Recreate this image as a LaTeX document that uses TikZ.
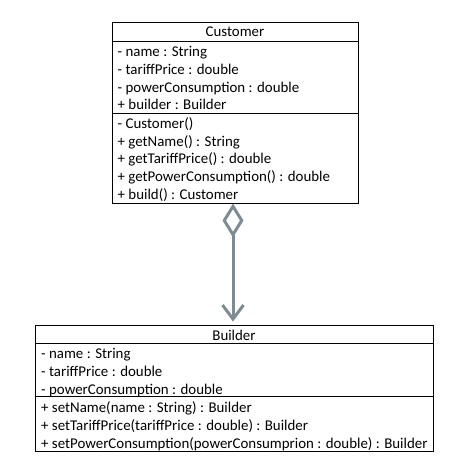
\documentclass[tikz,border=0pt]{standalone}
\usepackage{fontspec}
\setmainfont{Carlito}
\usetikzlibrary{arrows.meta}
\definecolor{linkgray}{RGB}{126,140,146}
\tikzset{
  classbox/.style={draw=black, line width=1pt, minimum width=#1, inner sep=0pt},
  divider/.style={draw=black, line width=1pt},
  member/.style={anchor=base west, inner sep=0pt, font=\fontsize{14.9}{16}\selectfont},
  title/.style={anchor=base, inner sep=0pt, font=\fontsize{14.9}{16}\selectfont},
  assoc/.style={draw=linkgray, line width=3pt,
    {Diamond[length=34pt,width=21pt,fill=white,line join=miter]}-{Straight Barb[length=14pt,width=21pt]},
    shorten >=3pt}
}
\begin{document}
\begin{tikzpicture}[x=1pt,y=-1pt]
\useasboundingbox (0,0) rectangle (468,469);
% Customer
\node[classbox=246pt, minimum height=181pt] (cust) at (235,112.5) {};
\draw[divider] (112,41) -- (358,41);
\draw[divider] (112,113) -- (358,113);
\node[title] (ct) at (235,36.7) {Customer};
\node[member] (c1) at (117.5,56.6) {- name : String};
\node[member] (c2) at (117.5,74.3) {- tariffPrice : double};
\node[member] (c3) at (117.5,92) {- powerConsumption : double};
\node[member] (c4) at (117.5,109.7) {+ builder : Builder};
\node[member] (c5) at (117.5,128.3) {- Customer()};
\node[member] (c6) at (117.5,146) {+ getName() : String};
\node[member] (c7) at (117.5,163.7) {+ getTariffPrice() : double};
\node[member] (c8) at (117.5,181.4) {+ getPowerConsumption() : double};
\node[member] (c9) at (117.5,199.1) {+ build() : Customer};
% Builder
\node[classbox=398pt, minimum height=126.5pt] (build) at (234,388.25) {};
\draw[divider] (35,343.5) -- (433,343.5);
\draw[divider] (35,396.7) -- (433,396.7);
\node[title] (bt) at (234,340) {Builder};
\node[member] (b1) at (41,358.5) {- name : String};
\node[member] (b2) at (41,376.5) {- tariffPrice : double};
\node[member] (b3) at (41,394.5) {- powerConsumption : double};
\node[member] (b4) at (41,412.5) {+ setName(name : String) : Builder};
\node[member] (b5) at (41,430.5) {+ setTariffPrice(tariffPrice : double) : Builder};
\node[member] (b6) at (41,448.5) {+ setPowerConsumption(powerConsumprion : double) : Builder};
% connector
\coordinate (cx) at (233,0);
\draw[assoc] (cust.south -| cx) -- (build.north -| cx);
\end{tikzpicture}
\end{document}
